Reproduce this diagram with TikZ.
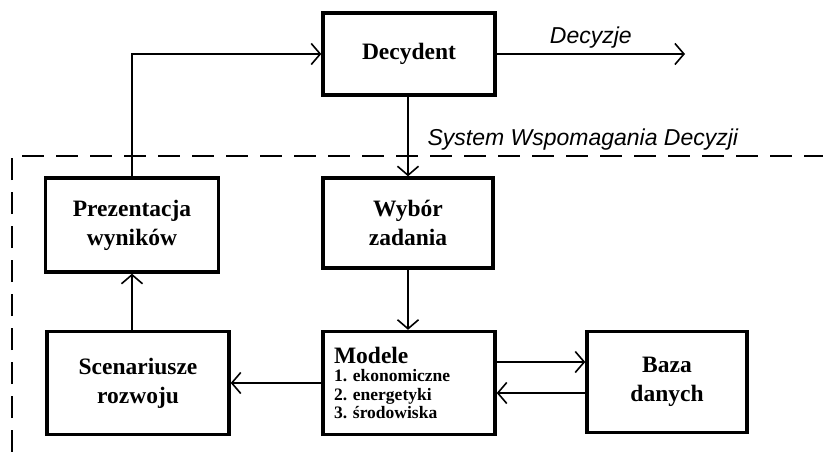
\documentclass[tikz,border=0pt]{standalone}
\usepackage{fontspec}
\setmainfont{Liberation Serif}
\newfontfamily\labelfont{Liberation Sans}
\usetikzlibrary{arrows.meta}

\begin{document}
\begin{tikzpicture}[x=1pt, y=-1pt,
        box/.style={draw, line width=3.4pt, inner sep=0pt, align=center,
            font=\bfseries\fontsize{23.5}{29}\selectfont},
        arr/.style={-{Straight Barb[length=9pt, width=21pt]}, line width=1.6pt},
        lbl/.style={font=\labelfont\itshape\fontsize{23}{26}\selectfont}]
            \useasboundingbox (0,0) rectangle (823,452);

            % Boxes
            \node [box, minimum width=172pt, minimum height=82pt] (dec) at (409,54) {Decydent};
            \node [box, minimum width=170pt, minimum height=90pt] (wyb) at (408,223) {Wybór\\zadania};
            \node [box, minimum width=173pt, minimum height=94pt] (prez) at (132,225) {Prezentacja\\wyników};
            \node [box, minimum width=182pt, minimum height=103pt] (scen) at (138,383) {Scenariusze\\rozwoju};
            \node [box, minimum width=172pt, minimum height=103pt, align=left, text width=150pt,
                font=\bfseries\fontsize{17.5}{18.5}\selectfont\frenchspacing] (mod) at (409,383)
                {{\fontsize{23.5}{26}\selectfont Modele}\\1. ekonomiczne\\2. energetyki\\3. środowiska};
            \node [box, minimum width=160pt, minimum height=101pt] (baza) at (667,382) {Baza\\danych};
            \coordinate (out) at (685,54);

            % System border
            \draw [dashed, dash pattern=on 22pt off 12pt, line width=1.2pt] (12,452) -- (12,156) -- (823,156);
            \node [lbl, anchor=base west] (sys) at (424,146) {System Wspomagania Decyzji};

            % Connectors
            \draw [arr] (dec) -- (out) node [midway, above=2pt, lbl] (decyzje) {Decyzje};
            \draw [arr] (prez.north) |- (dec.west);
            \draw [arr] (dec.south -| wyb.north) -- (wyb.north);
            \draw [arr] (wyb.south) -- (mod.north -| wyb.south);
            \draw [arr] (mod.west |- scen.east) -- (scen.east);
            \draw [arr] (prez.south |- scen.north) -- (prez.south);
            \draw [arr] ([yshift=21pt]mod.east) -- ([yshift=21pt]mod.east -| baza.west);
            \draw [arr] ([yshift=-11pt]baza.west) -- ([yshift=-11pt]baza.west -| mod.east);
        \end{tikzpicture}
\end{document}
